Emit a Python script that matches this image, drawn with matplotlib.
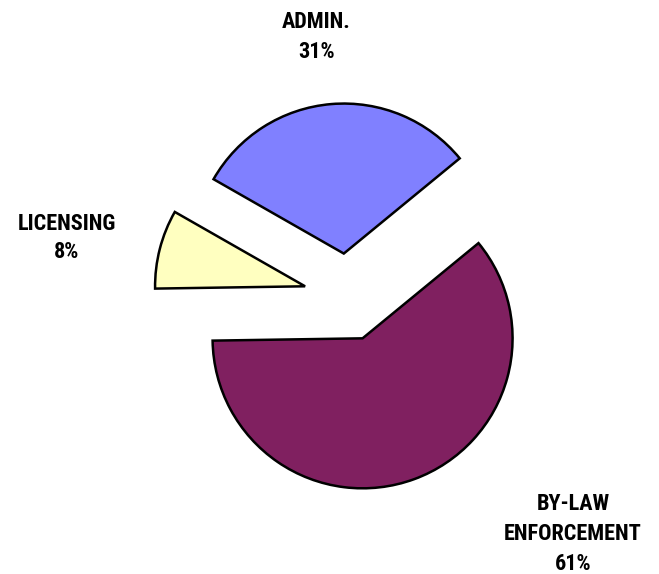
import matplotlib
matplotlib.use("Agg")
import matplotlib.pyplot as plt

# slice data (counter-clockwise from start angle)
categories = ["ADMIN.", "LICENSING", "BY-LAW\nENFORCEMENT"]
shares = [30.8, 8.5, 60.7]
pct_labels = ["31%", "8%", "61%"]
colors = ["#8080FF", "#FFFFC0", "#802060"]

W, H = 659, 574
fig = plt.figure(figsize=(W / 100, H / 100), dpi=100)
ax = fig.add_axes([0, 0, 1, 1])

ax.pie(
    shares,
    colors=colors,
    startangle=39.4,
    counterclock=True,
    explode=[0.292] * 3,
    radius=1,
    wedgeprops=dict(edgecolor="black", linewidth=1.8),
)

# pie centre at pixel (347.5, 297.2), radius 150 px
cx, cy, r = 347.5, 297.2, 150.0
ax.set_xlim(-cx / r, (W - cx) / r)
ax.set_ylim(-(H - cy) / r, cy / r)
ax.set_aspect("auto")
ax.axis("off")

font = dict(family=["Roboto Condensed", "PT Sans Narrow", "Liberation Sans", "DejaVu Sans"],
            fontsize=16, fontweight="bold", ha="center", va="baseline")

# label blocks: (x centre px, list of baselines px)
label_pos = [(316.5, [28, 58]), (66.5, [229.5, 258]), (573, [510.5, 540.5, 569.5])]
for cat, pct, (x, ys) in zip(categories, pct_labels, label_pos):
    lines = cat.split("\n") + [pct]
    for line, y in zip(lines, ys):
        fig.text(x / W, 1 - y / H, line, **font)

fig.savefig("out.png", dpi=100)
